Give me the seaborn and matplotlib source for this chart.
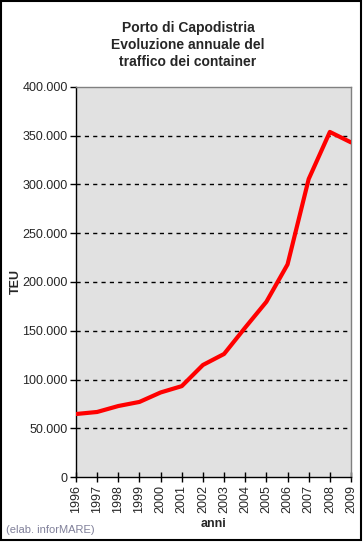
import matplotlib
matplotlib.use("Agg")
import matplotlib.pyplot as plt
import matplotlib.ticker as mticker
import seaborn as sns
import pandas as pd

# TEU handled per year
anni = [1996, 1997, 1998, 1999, 2000, 2001, 2002, 2003, 2004, 2005, 2006, 2007, 2008, 2009]
teu = [64600, 66700, 72800, 77000, 86700, 93200, 114900, 126200, 153300, 179700, 218000, 305600, 353900, 343200]
y_ticks = [0, 50000, 100000, 150000, 200000, 250000, 300000, 350000, 400000]

df = pd.DataFrame({"anni": anni, "teu": teu})

sns.set_style("white")
plt.rcParams["font.family"] = ["Liberation Sans", "DejaVu Sans"]

fig = plt.figure(figsize=(3.64, 5.42), dpi=100)
ax = fig.add_axes([76 / 364, 65 / 542, 275 / 364, 390 / 542])
ax.set_facecolor("#e1e1e1")

sns.lineplot(data=df, x="anni", y="teu", ax=ax, color="#ff0000", linewidth=3, zorder=3)

ax.set_xlim(anni[0], anni[-1])
ax.set_ylim(0, 400000)
ax.set_xticks(anni)
ax.set_xticklabels([str(a) for a in anni], rotation=90, fontsize=9)
ax.set_yticks(y_ticks)
ax.yaxis.set_major_formatter(mticker.FuncFormatter(lambda v, p: f"{int(v):,}".replace(",", ".")))
ax.tick_params(axis="y", labelsize=9, length=4, width=1, color="black", direction="out", pad=2, left=True)
ax.tick_params(axis="x", length=7, width=1, color="black", direction="inout", pad=2, bottom=True)

for v in y_ticks[1:-1]:
    ax.axhline(v, color="black", linestyle=(0, (3, 3)), linewidth=1, zorder=1)

for s in ["left", "bottom"]:
    ax.spines[s].set_color("black")
    ax.spines[s].set_linewidth(1)
for s in ["top", "right"]:
    ax.spines[s].set_color("#808080")
    ax.spines[s].set_linewidth(1)

ax.set_xlabel("anni", fontsize=9, fontweight="bold", labelpad=4)
ax.set_ylabel("TEU", fontsize=9, fontweight="bold")
ax.yaxis.set_label_coords(-54 / 275, 0.5)

fig.text(188 / 364, 1 - 45 / 542, "Porto di Capodistria\nEvoluzione annuale del\ntraffico dei container",
         ha="center", va="center", fontsize=10, fontweight="bold", linespacing=1.3)
fig.text(6 / 364, 1 - 530 / 542, "(elab. inforMARE)", ha="left", va="center", fontsize=8, color="#80809a")

# black frame around the whole figure
fig.patches.append(plt.Rectangle((0.002, 0.003), 0.99, 0.995, transform=fig.transFigure,
                                 fill=False, edgecolor="black", linewidth=1.5))

fig.savefig("out.png", dpi=100)
